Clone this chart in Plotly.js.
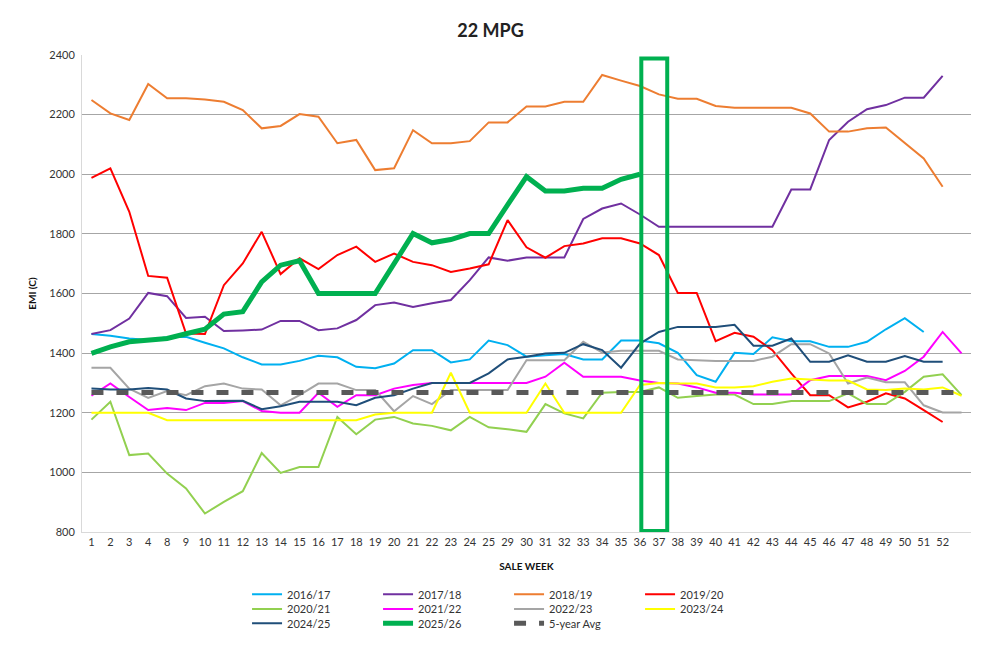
<!DOCTYPE html>
<html><head><meta charset="utf-8">
<script src="https://cdn.plot.ly/plotly-3.0.1.min.js"></script>
<style>html,body{margin:0;padding:0;background:#fff}#chart{width:987px;height:648px}</style>
</head><body><div id="chart"></div>
<script>
// Sale week category labels (last category is blank)
const weeks = ['1','2','3','4','8','9','10','11','12','13','14','15','16','17','18','19','20','21','22','23','24','25','29','30','31','32','33','34','35','36','37','38','39','40','41','42','43','44','45','46','47','48','49','50','51','52',''];

const s2016_17 = [1464,1458,1449,1444,1453,1455,1435,1416,1386,1362,1362,1374,1391,1386,1354,1349,1365,1410,1410,1369,1379,1442,1427,1388,1393,1397,1379,1379,1442,1442,1433,1401,1326,1304,1401,1397,1453,1440,1440,1421,1421,1438,1480,1517,1471];
const s2017_18 = [1464,1477,1516,1602,1591,1518,1522,1474,1476,1479,1508,1508,1477,1483,1511,1561,1570,1555,1567,1578,1645,1721,1710,1721,1721,1721,1850,1885,1902,1865,1824,1824,1824,1824,1824,1824,1824,1949,1949,2115,2176,2218,2232,2257,2257,2330];
const s2018_19 = [2249,2204,2182,2303,2255,2255,2251,2243,2215,2154,2162,2202,2193,2104,2115,2014,2020,2148,2104,2104,2111,2174,2174,2227,2227,2243,2243,2333,2314,2296,2268,2253,2253,2229,2223,2223,2223,2223,2204,2143,2143,2154,2157,2104,2053,1958];
const s2019_20 = [1988,2020,1874,1659,1653,1466,1464,1628,1701,1807,1665,1718,1682,1729,1757,1706,1734,1706,1695,1672,1684,1698,1846,1755,1720,1759,1768,1785,1785,1768,1729,1602,1602,1440,1468,1455,1410,1332,1259,1259,1218,1237,1265,1248,1209,1169];
const s2020_21 = [1177,1237,1058,1063,996,946,862,901,937,1065,998,1018,1018,1186,1128,1177,1186,1164,1156,1141,1186,1151,1145,1136,1229,1198,1181,1267,1270,1270,1285,1250,1256,1261,1261,1229,1229,1239,1239,1239,1265,1229,1229,1270,1321,1329,1259];
const s2021_22 = [1257,1298,1253,1209,1216,1209,1233,1233,1239,1206,1200,1200,1267,1220,1259,1259,1281,1293,1300,1300,1300,1300,1300,1300,1321,1368,1321,1321,1321,1308,1300,1298,1285,1267,1267,1261,1261,1261,1309,1323,1323,1323,1309,1340,1388,1471,1399];
const s2022_23 = [1351,1351,1281,1250,1273,1259,1289,1298,1281,1278,1225,1259,1298,1298,1276,1276,1205,1256,1229,1276,1276,1276,1276,1376,1376,1376,1438,1402,1408,1408,1408,1379,1376,1374,1374,1374,1388,1430,1430,1399,1298,1318,1302,1302,1225,1201,1201];
const s2023_24 = [1200,1200,1200,1200,1175,1175,1175,1175,1175,1175,1175,1175,1175,1175,1175,1194,1200,1200,1200,1334,1200,1200,1200,1200,1298,1200,1200,1200,1200,1293,1300,1298,1298,1285,1285,1289,1304,1315,1311,1308,1308,1278,1276,1281,1278,1285,1257];
const s2024_25 = [1281,1278,1278,1283,1278,1248,1239,1240,1240,1212,1222,1237,1237,1237,1225,1250,1259,1281,1300,1300,1300,1332,1379,1388,1399,1401,1430,1410,1351,1432,1471,1488,1488,1488,1495,1425,1425,1449,1371,1371,1393,1371,1371,1390,1371,1371];
const s2025_26 = [1399,1421,1438,1444,1449,1465,1480,1531,1539,1639,1695,1710,1600,1600,1600,1600,1700,1801,1770,1781,1801,1801,1897,1992,1944,1944,1953,1953,1983,2000];
const avg5yr = [1268,1268,1268,1268,1268,1268,1268,1268,1268,1268,1268,1268,1268,1268,1268,1268,1268,1268,1268,1268,1268,1268,1268,1268,1268,1268,1268,1268,1268,1268,1268,1268,1268,1268,1268,1268,1268,1268,1268,1268,1268,1268,1268,1268,1268,1268,1268];

const yTicks = [800,1000,1200,1400,1600,1800,2000,2200,2400];

const FONT = 'Lato, "Open Sans", sans-serif';
const idx = weeks.map((w,i)=>i);

function tr(name, vals, color, width, legend, dash){
  const line = {color: color, width: width};
  if (dash) line.dash = dash;
  return {type:'scatter', mode:'lines', name: name, x: idx.slice(0, vals.length), y: vals,
          line: line, legend: legend, hoverinfo:'skip'};
}

const data = [
  tr('2016/17', s2016_17, '#00B0F0', 2, 'legend'),
  tr('2017/18', s2017_18, '#7030A0', 2, 'legend'),
  tr('2018/19', s2018_19, '#ED7D31', 2, 'legend'),
  tr('2019/20', s2019_20, '#FF0000', 2, 'legend'),
  tr('2020/21', s2020_21, '#92D050', 2, 'legend2'),
  tr('2021/22', s2021_22, '#FF00FF', 2, 'legend2'),
  tr('2022/23', s2022_23, '#A5A5A5', 2, 'legend2'),
  tr('2023/24', s2023_24, '#FFFF00', 2, 'legend2'),
  tr('2024/25', s2024_25, '#1F4E79', 2, 'legend3'),
  tr('2025/26', s2025_26, '#00B050', 5, 'legend3'),
  tr('5-year Avg', avg5yr, '#595959', 5, 'legend3', '12px,13px')
];

function legendCfg(y){
  return {orientation:'h', xref:'container', yref:'container', x:0.2503, xanchor:'left',
          y:y, yanchor:'middle', entrywidth:86, entrywidthmode:'pixels',
          font:{family:FONT, size:11, color:'#333'}, bgcolor:'rgba(0,0,0,0)',
          traceorder:'normal', itemclick:false, itemdoubleclick:false};
}

const layout = {
  width:987, height:648,
  margin:{l:82, r:16, t:55, b:116},
  paper_bgcolor:'#fff', plot_bgcolor:'#fff',
  font:{family:FONT, color:'#333'},
  title:{text:'22 MPG', x:0.497, xanchor:'center', y:0.953, yanchor:'middle',
         font:{family:FONT, size:18, weight:'bold', color:'#222'}},
  xaxis:{range:[-0.5, weeks.length-0.5], tickvals: idx, ticktext: weeks,
         showgrid:false, zeroline:false, showline:true, linecolor:'#D9D9D9', linewidth:1,
         ticks:'', tickfont:{family:FONT, size:11, color:'#333'}, tickangle:0,
         title:{text:'SALE WEEK', font:{family:FONT, size:10, weight:'bold', color:'#111'}, standoff:15}},
  yaxis:{range:[800,2400], tickvals:yTicks, ticktext: yTicks.map(String),
         showgrid:true, gridcolor:'#A6A6A6', gridwidth:1, zeroline:false,
         showline:true, linecolor:'#D9D9D9', linewidth:1, ticks:'', ticklabelstandoff:4,
         tickfont:{family:FONT, size:11, color:'#333'},
         title:{text:'EMI (C)', font:{family:FONT, size:10, weight:'bold', color:'#111'}, standoff:10}},
  shapes:[{type:'rect', xref:'x', yref:'y', x0:29.07, x1:30.44, y0:803, y1:2388,
           line:{color:'#00B050', width:4}, fillcolor:'rgba(0,0,0,0)', layer:'above'}],
  legend: legendCfg(0.0829),
  legend2: legendCfg(0.0602),
  legend3: legendCfg(0.0381),
  showlegend:true
};

Plotly.newPlot('chart', data, layout, {displayModeBar:false, staticPlot:true});
</script>
</body></html>
